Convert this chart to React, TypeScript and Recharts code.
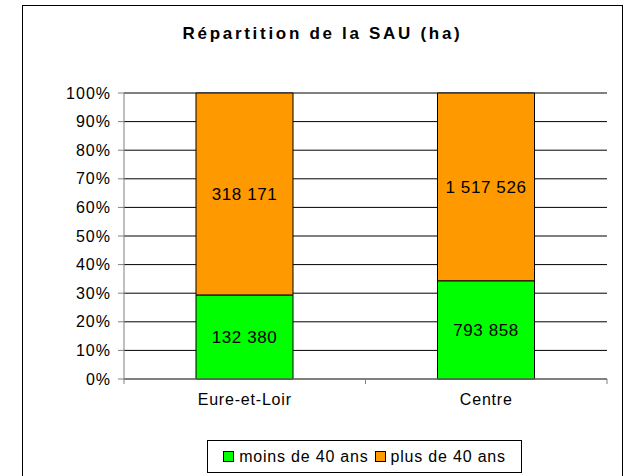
import React from 'react'
import { BarChart, Bar, XAxis, YAxis, CartesianGrid, LabelList } from 'recharts'

const categories = ['Eure-et-Loir', 'Centre']
const moins40 = [132380, 793858]
const plus40 = [318171, 1517526]
const yTicks = [0, 0.1, 0.2, 0.3, 0.4, 0.5, 0.6, 0.7, 0.8, 0.9, 1]

const data = categories.map((name, i) => ({ name, moins: moins40[i], plus: plus40[i] }))

const FONT = 'Arial, "Liberation Sans", Helvetica, sans-serif'
const PLOT_LEFT = 124
const PLOT_RIGHT = 607
const halfBand = (PLOT_RIGHT - PLOT_LEFT) / categories.length / 2

const fmt = (v: any) => String(v).replace(/\B(?=(\d{3})+(?!\d))/g, ' ')

const CatTick = (props: any) => {
  const { x, y, payload } = props
  return (
    <g>
      <line x1={x - halfBand} x2={x - halfBand} y1={y - 8} y2={y - 3} stroke="#808080" />
      <line x1={x + halfBand} x2={x + halfBand} y1={y - 8} y2={y - 3} stroke="#808080" />
      <text x={x} y={y + 18} textAnchor="middle" fill="#000" fontSize={16} letterSpacing={0.8} fontFamily={FONT}>
        {payload.value}
      </text>
    </g>
  )
}

const Swatch = ({ color }: { color: string }) => (
  <span style={{ display: 'inline-block', width: 9, height: 9, background: color, border: '1px solid #000', marginRight: 5 }} />
)

export default function App() {
  return (
    <div style={{ position: 'fixed', left: 0, top: 0, width: 627, height: 476, background: '#fff', overflow: 'hidden', fontFamily: FONT }}>
      <div style={{ position: 'absolute', left: 22, top: 5, width: 599, height: 490, border: '1px solid #000' }} />
      <div style={{ position: 'absolute', left: 23, width: 599, top: 25, lineHeight: '17px', textAlign: 'center', fontWeight: 'bold', fontSize: 17, letterSpacing: 2.7 }}>
        Répartition de la SAU (ha)
      </div>
      <div style={{ position: 'absolute', left: 0, top: 0 }}>
        <BarChart
          width={627}
          height={476}
          data={data}
          stackOffset="expand"
          margin={{ top: 93, right: 627 - PLOT_RIGHT, bottom: 67, left: PLOT_LEFT - 60 }}
        >
          <CartesianGrid vertical={false} stroke="#000" horizontalValues={yTicks} />
          <XAxis
            dataKey="name"
            height={30}
            axisLine={{ stroke: '#808080' }}
            tickLine={false}
            tick={<CatTick />}
            interval={0}
          />
          <YAxis
            width={60}
            domain={[0, 1]}
            ticks={yTicks}
            tickFormatter={(v: number) => `${Math.round(v * 100)}%`}
            axisLine={{ stroke: '#808080' }}
            tickLine={{ stroke: '#808080' }}
            tickSize={6}
            tickMargin={7}
            tick={{ fill: '#000', fontSize: 16, letterSpacing: 1, fontFamily: FONT }}
          />
          <YAxis yAxisId="r" orientation="right" width={0} tick={false} tickLine={false} axisLine={{ stroke: '#808080' }} />
          <Bar dataKey="moins" name="moins de 40 ans" stackId="a" fill="#00FF00" stroke="#000" barSize={97} isAnimationActive={false}>
            <LabelList dataKey="moins" position="center" formatter={fmt} fill="#000" fontSize={17} letterSpacing={0.6} fontFamily={FONT} />
          </Bar>
          <Bar dataKey="plus" name="plus de 40 ans" stackId="a" fill="#FF9900" stroke="#000" barSize={97} isAnimationActive={false}>
            <LabelList dataKey="plus" position="center" formatter={fmt} fill="#000" fontSize={17} letterSpacing={0.6} fontFamily={FONT} />
          </Bar>
        </BarChart>
      </div>
      <div
        style={{
          position: 'absolute', left: 207, top: 440, width: 315, height: 33, boxSizing: 'border-box',
          border: '1px solid #000', display: 'flex', alignItems: 'center', justifyContent: 'center',
          fontSize: 16, letterSpacing: 0.8,
        }}
      >
        <Swatch color="#00FF00" />
        <span style={{ marginRight: 6 }}>moins de 40 ans</span>
        <Swatch color="#FF9900" />
        <span>plus de 40 ans</span>
      </div>
    </div>
  )
}
